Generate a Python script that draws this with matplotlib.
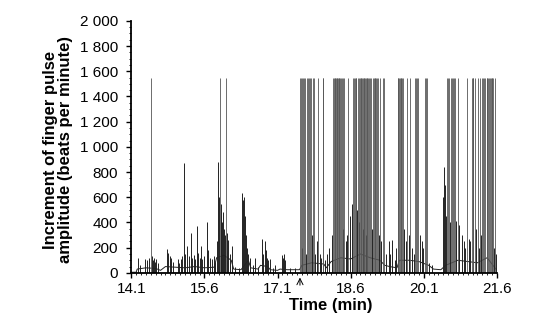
##################################################
### finger pulse amplitude increment vs time
##################################################

import matplotlib
matplotlib.use('Agg')
import matplotlib.pyplot as plt
from matplotlib.ticker import MultipleLocator, FuncFormatter

plt.rc('font', family=['Liberation Sans', 'DejaVu Sans'], size=11)

##### data
## baseline trace (min, beats per minute)
base_t = [14.10, 14.20, 14.22, 14.40, 14.60, 14.70, 14.80, 15.00, 15.20, 15.40,
          15.60, 15.80, 15.85, 16.00, 16.15, 16.20, 16.35, 16.50, 16.55, 16.70,
          16.75, 16.90, 16.95, 17.10, 17.15, 17.30, 17.55, 17.60, 17.80, 18.05,
          18.10, 18.20, 18.40, 18.60, 18.80, 19.00, 19.20, 19.30, 19.40, 19.55,
          19.60, 19.80, 20.00, 20.20, 20.30, 20.45, 20.55, 20.80, 21.00, 21.20,
          21.40, 21.60]
base_v = [5, 5, 30, 40, 35, 20, 50, 45, 40, 50,
          40, 45, 120, 140, 100, 30, 25, 100, 40, 30,
          60, 50, 25, 20, 30, 25, 25, 60, 80, 70,
          40, 90, 120, 110, 150, 120, 100, 60, 50, 40,
          100, 100, 90, 60, 30, 25, 60, 100, 90, 80,
          120, 20]

## small and medium spikes
spike_t = [14.24, 14.28, 14.38, 14.42, 14.46, 14.52, 14.54, 14.56, 14.58, 14.61, 14.64,
           14.83, 14.86, 14.89, 14.92, 14.95,
           15.05, 15.08, 15.12, 15.15, 15.18, 15.20, 15.25, 15.28, 15.32, 15.35,
           15.38, 15.41, 15.44, 15.47, 15.50, 15.53, 15.56, 15.59, 15.66, 15.68,
           15.71, 15.75, 15.79, 15.82,
           15.86, 15.88, 15.90, 15.93, 15.95, 15.97, 15.99, 16.01, 16.03, 16.07,
           16.09, 16.12, 16.17, 16.22, 16.30,
           16.38, 16.39, 16.41, 16.43, 16.45, 16.47, 16.49, 16.53,
           16.60, 16.64, 16.70,
           16.78, 16.80, 16.84, 16.86, 16.88, 16.91, 16.94, 17.00, 17.05,
           17.19, 17.21, 17.23, 17.25, 17.35, 17.45,
           17.60, 17.68, 17.80, 17.87, 17.90, 17.97, 18.00, 18.08, 18.12, 18.16,
           18.21, 18.44, 18.50, 18.52, 18.58, 18.62, 18.73, 18.78, 18.86, 18.92,
           19.03, 19.18, 19.23, 19.33, 19.38, 19.41, 19.45, 19.50, 19.54, 19.70,
           19.73, 19.79, 19.86, 19.89, 20.02, 20.06, 20.09, 20.21, 20.27,
           20.50, 20.52, 20.54, 20.56, 20.63, 20.77, 20.83, 20.88, 20.92, 20.95,
           21.02, 21.05, 21.18, 21.23, 21.28, 21.54, 21.58]
spike_v = [115, 60, 110, 100, 120, 130, 100, 120, 90, 110, 80,
           190, 160, 130, 120, 90,
           110, 80, 110, 130, 870, 150, 210, 130, 315, 120,
           140, 110, 370, 160, 120, 210, 110, 130, 400, 180,
           120, 110, 130, 90,
           250, 880, 600, 450, 550, 400, 480, 350, 300, 320,
           260, 150, 210, 50, 40,
           630, 580, 600, 450, 300, 200, 150, 120,
           60, 120, 50,
           270, 150, 250, 180, 120, 100, 110, 40, 60,
           140, 120, 150, 100, 40, 35,
           200, 150, 300, 150, 250, 150, 120, 100, 150, 200,
           300, 350, 250, 300, 450, 550, 500, 400, 350, 300,
           350, 300, 250, 150, 250, 150, 260, 100, 200, 350,
           250, 300, 200, 150, 300, 250, 200, 80, 60,
           600, 840, 700, 450, 400, 410, 380, 300, 250, 200,
           270, 250, 350, 200, 300, 200, 150]

## spikes clipped at the top of the recording range
tall_t = [14.50, 15.92, 16.05,
          17.56, 17.58, 17.60, 17.63, 17.65, 17.67, 17.70, 17.72, 17.74, 17.76,
          17.78, 17.83, 17.84, 17.93, 18.03, 18.04,
          18.24, 18.25, 18.27, 18.28, 18.30, 18.31, 18.33, 18.34, 18.36, 18.37,
          18.39, 18.40, 18.42, 18.45, 18.47, 18.55,
          18.64, 18.66, 18.68, 18.70, 18.71, 18.75, 18.77, 18.79,
          18.81, 18.82, 18.84, 18.85, 18.87, 18.88, 18.90, 18.91, 18.93, 18.94,
          18.96, 18.98, 19.00, 19.01,
          19.05, 19.07, 19.09, 19.10, 19.12, 19.14, 19.16, 19.20, 19.27, 19.29,
          19.57, 19.58, 19.60, 19.61, 19.63, 19.64, 19.66, 19.68, 19.75, 19.82,
          19.92, 19.94, 19.96, 19.98, 20.13, 20.15, 20.17,
          20.58, 20.60, 20.62, 20.65, 20.67, 20.70, 20.72, 20.75, 20.80, 20.98,
          21.08, 21.10, 21.12, 21.15, 21.21, 21.26,
          21.30, 21.32, 21.34, 21.36, 21.39, 21.40, 21.42, 21.44, 21.45, 21.47,
          21.49, 21.50, 21.52, 21.56]
tall_top = 1550

x_ticks = [14.1, 15.6, 17.1, 18.6, 20.1, 21.6]
stim_t = 17.56  # arrow marker

###########################################################################
fig = plt.figure(figsize=(5.36, 3.26), dpi=100)
ax = fig.add_axes([0.245, 0.163, 0.682, 0.773])

ax.plot(base_t, base_v, color='#222222', lw=0.7)
ax.vlines(spike_t, 0, spike_v, color='#222222', lw=0.7)
ax.vlines(tall_t, 0, tall_top, color='#555555', lw=0.6)

ax.set_xlim(14.1, 21.6)
ax.set_ylim(0, 2000)
ax.spines['top'].set_visible(False)
ax.spines['right'].set_visible(False)
ax.spines['left'].set_linewidth(1.3)
ax.spines['bottom'].set_linewidth(1.3)

ax.set_xticks(x_ticks)
ax.set_xticklabels(['%.1f' % v for v in x_ticks])
ax.xaxis.set_minor_locator(MultipleLocator(0.1))
ax.yaxis.set_major_locator(MultipleLocator(200))
ax.yaxis.set_minor_locator(MultipleLocator(50))
ax.yaxis.set_major_formatter(FuncFormatter(lambda v, p: '{:,}'.format(int(v)).replace(',', ' ')))
ax.tick_params(which='major', direction='out', length=3.5, width=1.0, labelsize=11)
ax.tick_params(axis='y', which='major', pad=6)
ax.tick_params(axis='x', which='major', pad=3)
ax.tick_params(which='minor', direction='out', length=1.2, width=0.6)

ax.set_xlabel('Time (min)', fontsize=12, fontweight='bold')
ax.xaxis.set_label_coords(0.546, -0.1)
fig.text(0.109, 0.54, 'Increment of finger pulse\namplitude (beats per minute)',
         rotation=90, ha='center', va='center', fontsize=12, fontweight='bold',
         linespacing=1.0)

## stimulus arrow under the axis
ax.annotate('', xy=(stim_t, -15), xytext=(stim_t, -120),
            arrowprops=dict(arrowstyle='->', lw=0.7, color='black'),
            annotation_clip=False)

fig.savefig('out.png', dpi=100)
plt.close()
